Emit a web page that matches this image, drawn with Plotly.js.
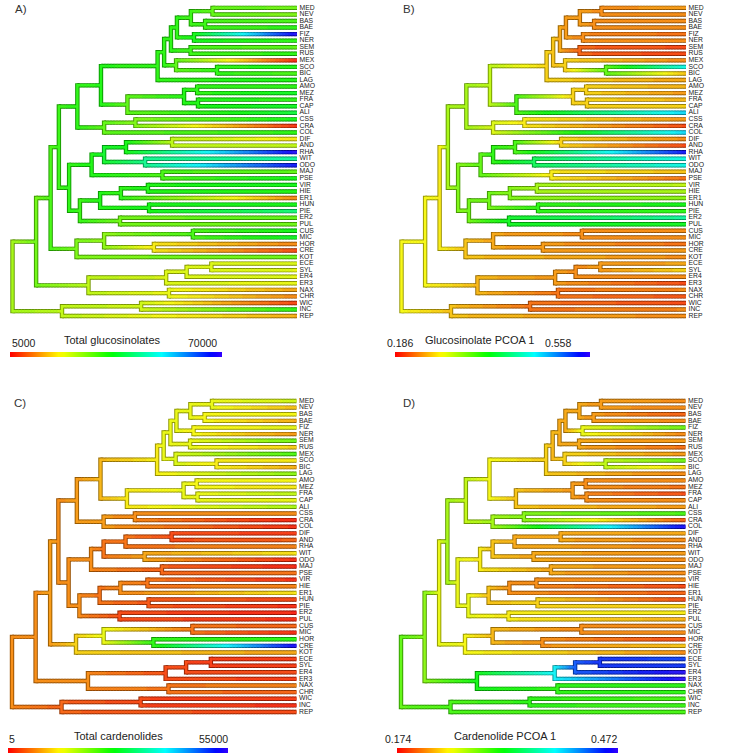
<!DOCTYPE html>
<html><head><meta charset="utf-8">
<script src="https://cdn.plot.ly/plotly-3.0.1.min.js"></script>
<style>html,body{margin:0;padding:0;background:#fff}#chart{width:732px;height:754px}</style>
</head><body><div id="chart"></div>
<script>
// ---------------- DATA ----------------
const tipLabels = ["MED","NEV","BAS","BAE","FIZ","NER","SEM","RUS","MEX","SCO","BIC","LAG","AMO","MEZ","FRA","CAP","ALI","CSS","CRA","COL","DIF","AND","RHA","WIT","ODO","MAJ","PSE","VIR","HIE","ER1","HUN","PIE","ER2","PUL","CUS","MIC","HOR","CRE","KOT","ECE","SYL","ER4","ER3","NAX","CHR","WIC","INC","REP"];

const nodeNames = ["a1","a2","a3","a4","a5","a6","a7","a8","a9","a10","a11","a12","a13","a14","a15","a16","a17","a18","a19",
  "b1","b2","b3","b4","b5","b6","b7","b8","b9","b10","b11","b12","b13",
  "c1","d1","d2","d3","d4","c2","e1","e2","e3","e4","e5","c3","f1","f2","root"];

const nodeChildren = [
  ["MED","NEV"],["BAS","BAE"],["a1","a2"],["FIZ","NER"],["a3","a4"],["SEM","RUS"],["a5","a6"],["SCO","BIC"],["MEX","a8"],["a7","a9"],
  ["a10","LAG"],["AMO","MEZ"],["FRA","CAP"],["a12","a13"],["a14","ALI"],["a11","a15"],["CSS","CRA"],["a17","COL"],["a16","a18"],
  ["DIF","AND"],["b1","RHA"],["WIT","ODO"],["b2","b3"],["MAJ","PSE"],["b4","b5"],["VIR","HIE"],["b7","ER1"],["HUN","PIE"],["b8","b9"],
  ["ER2","PUL"],["b10","b11"],["b6","b12"],
  ["a19","b13"],["CUS","MIC"],["HOR","CRE"],["d1","d2"],["d3","KOT"],["c1","d4"],
  ["ECE","SYL"],["e1","ER4"],["e2","ER3"],["NAX","CHR"],["e3","e4"],["c2","e5"],["WIC","INC"],["f1","REP"],["c3","f2"]];

// node depth from the root (root = 0, tips = 1)
const nodeDepth = [0.703,0.677,0.627,0.638,0.578,0.626,0.557,0.719,0.575,0.533,0.510,0.649,0.652,0.603,0.404,0.311,0.432,0.322,0.228,
  0.561,0.399,0.466,0.322,0.527,0.278,0.476,0.381,0.480,0.308,0.378,0.237,0.199,
  0.163,0.634,0.497,0.322,0.225,0.134,
  0.699,0.612,0.540,0.550,0.267,0.083,0.452,0.174,0];

// A) Total glucosinolates
const glucTotalTips = [29700,28400,32300,34250,68700,34250,31000,34250,6300,35550,32300,35550,34250,37500,34250,37500,38800,36200,6950,34250,
  19300,24500,68700,45300,66750,31000,36200,36200,35550,12800,36200,42700,31000,29700,36200,37500,12800,8900,29700,
  22550,21900,21900,21250,14750,12800,8250,34250,15400];
const glucTotalNodes = [31000,32950,32950,36200,34250,32950,34250,34250,31000,34250,34250,34250,35550,34900,31000,34900,28400,31000,34250,
  24500,36200,44000,37500,32300,35550,35550,34250,36200,34900,29700,33600,34250,
  33600,32300,19300,27750,29050,32300,22550,22550,22550,21250,24500,29700,23200,24500,26450];

// B) Glucosinolate PCOA 1
const glucPcoaTips = [0.238,0.234,0.234,0.231,0.223,0.231,0.208,0.205,0.231,0.446,0.253,0.242,0.246,0.238,0.249,0.260,0.465,0.238,0.208,0.465,
  0.234,0.208,0.539,0.446,0.446,0.253,0.223,0.298,0.305,0.316,0.365,0.353,0.417,0.372,0.231,0.234,0.223,0.238,0.234,
  0.242,0.260,0.231,0.208,0.231,0.212,0.208,0.231,0.231];
const glucPcoaNodes = [0.234,0.234,0.238,0.231,0.238,0.216,0.242,0.335,0.260,0.253,0.260,0.260,0.260,0.260,0.342,0.298,0.268,0.286,0.309,
  0.260,0.342,0.391,0.353,0.268,0.335,0.305,0.320,0.353,0.327,0.372,0.327,0.320,
  0.305,0.234,0.238,0.242,0.253,0.272,0.238,0.234,0.238,0.223,0.249,0.275,0.223,0.253,0.275];

// C) Total cardenolides
const cardTotalTips = [15400,9900,13200,8800,13750,7700,20900,11000,23100,12100,8800,19250,13200,12100,16500,13750,17600,6600,1100,1650,
  2200,4400,6600,12100,1650,1100,5500,1650,6600,12100,3300,1650,1100,1650,4400,1650,24750,53350,8250,
  2200,2200,2750,2200,6600,4400,2200,1650,2750];
const cardTotalNodes = [13750,13200,13750,13200,13750,13750,13750,12650,14850,13750,12650,13200,13750,13750,12100,9350,6600,7700,7700,
  3300,5500,8250,5500,4400,6600,5500,6600,3850,5500,3300,6600,6600,
  7150,5500,24750,13750,11000,7700,2200,2750,3300,5500,6600,7150,2750,4400,6600];

// D) Cardenolide PCOA 1
const cardPcoaTips = [0.213,0.210,0.198,0.213,0.287,0.210,0.216,0.204,0.216,0.287,0.234,0.210,0.213,0.204,0.192,0.210,0.216,0.299,0.198,0.463,
  0.219,0.210,0.210,0.216,0.210,0.216,0.210,0.210,0.192,0.198,0.192,0.234,0.240,0.222,0.210,0.210,0.192,0.228,0.213,
  0.442,0.448,0.466,0.469,0.308,0.308,0.299,0.302,0.299];
const cardPcoaNodes = [0.216,0.216,0.219,0.249,0.222,0.219,0.222,0.263,0.234,0.225,0.231,0.213,0.210,0.216,0.228,0.246,0.281,0.272,0.263,
  0.219,0.222,0.219,0.228,0.219,0.240,0.210,0.213,0.234,0.228,0.240,0.249,0.249,
  0.272,0.210,0.213,0.225,0.246,0.251,0.448,0.436,0.389,0.308,0.317,0.281,0.308,0.299,0.293];

const traitTitles = ["Total glucosinolates","Glucosinolate PCOA 1","Total cardenolides","Cardenolide PCOA 1"];
const traitMin = [5000, 0.186, 5, 0.174];
const traitMax = [70000, 0.558, 55000, 0.472];
const traitMinLabel = ["5000","0.186","5","0.174"];
const traitMaxLabel = ["70000","0.558","55000","0.472"];
const panelLetters = ["A)","B)","C)","D)"];

// ---------------- LAYOUT (pixels) ----------------
const W = 732, H = 754;
const boxes = [
  {left:12.5, right:297,  top:5,   bottom:316, letter:[12.5,8.5],  bar:[10,222,352,357],  title:[112,340], minX:24,  maxX:203, nums:343},
  {left:401.5,right:686,  top:5,   bottom:316, letter:[400.5,8.5], bar:[395,590,352,357], title:[480,340], minX:400, maxX:558, nums:343},
  {left:12,   right:296.5,top:401, bottom:712, letter:[12,403],    bar:[8,228,748,753],   title:[118,736], minX:12,  maxX:213, nums:739},
  {left:401,  right:685.5,top:401, bottom:712, letter:[400.5,403], bar:[397,618,748,753], title:[505,736], minX:398, maxX:604, nums:739}
];
const OUT_W = 4.4, FILL_W = 2.5;
const NB = 72;

function hsv(h){ // s=v=1
  const i = Math.floor(h*6), f = h*6 - i, q = 1-f, t = f;
  let r,g,b;
  switch(((i%6)+6)%6){case 0:r=1;g=t;b=0;break;case 1:r=q;g=1;b=0;break;case 2:r=0;g=1;b=t;break;
    case 3:r=0;g=q;b=1;break;case 4:r=t;g=0;b=1;break;default:r=1;g=0;b=q;}
  return [r,g,b];
}
// k: brightness factor, w: share of white mixed in
function rampColor(t, k, w){ t=Math.max(0,Math.min(1,t)); const c=hsv(t*0.7); w=w||0;
  const f = v => Math.round((v*k*(1-w)+w)*255);
  return 'rgb('+f(c[0])+','+f(c[1])+','+f(c[2])+')'; }
const rampScale = []; for(let i=0;i<=35;i++){ rampScale.push([i/35, rampColor(i/35,1,0)]); }

const tipIndex = {}; tipLabels.forEach((n,i)=>tipIndex[n]=i);
const nodeIndex = {}; nodeNames.forEach((n,i)=>nodeIndex[n]=i);
const yCache = {};
function yOf(n){ if(n in tipIndex) return tipIndex[n]; if(n in yCache) return yCache[n];
  const ch = nodeChildren[nodeIndex[n]]; const y=(yOf(ch[0])+yOf(ch[1]))/2; yCache[n]=y; return y; }
function depthOf(n){ return (n in tipIndex) ? 1 : nodeDepth[nodeIndex[n]]; }

const panelTips = [glucTotalTips, glucPcoaTips, cardTotalTips, cardPcoaTips];
const panelNodes = [glucTotalNodes, glucPcoaNodes, cardTotalNodes, cardPcoaNodes];

const data = [];
const layout = {width:W, height:H, margin:{l:0,r:0,t:0,b:0}, paper_bgcolor:'#fff', plot_bgcolor:'rgba(0,0,0,0)',
  showlegend:false, annotations:[], font:{family:'"Liberation Sans", Arial, sans-serif'}};
const PADX = 0.03, PADY = 1.2;

for(let p=0;p<4;p++){
  const bx = boxes[p];
  const ax = p===0 ? '' : String(p+1);
  const xpx = bx.right-bx.left, ypx = (bx.bottom-bx.top)/(tipLabels.length-1);
  layout['xaxis'+ax] = {domain:[(bx.left-PADX*xpx)/W, (bx.right+PADX*xpx)/W], range:[-PADX,1+PADX], visible:false, fixedrange:true};
  layout['yaxis'+ax] = {domain:[1-(bx.bottom+PADY*ypx)/H, 1-(bx.top-PADY*ypx)/H], range:[tipLabels.length-1+PADY, -PADY], visible:false, fixedrange:true};
  const tv = n => { const v = (n in tipIndex) ? panelTips[p][tipIndex[n]] : panelNodes[p][nodeIndex[n]];
    return (v-traitMin[p])/(traitMax[p]-traitMin[p]); };
  const outB = [], fillB = [];
  for(let i=0;i<NB;i++){ outB.push({x:[],y:[]}); fillB.push({x:[],y:[]}); }
  const lev = t => Math.max(0,Math.min(NB-1,Math.round(Math.max(0,Math.min(1,t))*(NB-1))));
  const eo = (OUT_W/2)/ypx, ef = (FILL_W/2)/ypx, ovl = 0.4/xpx;
  nodeNames.forEach((n,i)=>{
    const dp = nodeDepth[i], tp = tv(n), ch = nodeChildren[i];
    const ya = yOf(ch[0]), yb = yOf(ch[1]);
    const L = lev(tp);
    outB[L].x.push(dp,dp,null); outB[L].y.push(ya-eo,yb+eo,null);
    fillB[L].x.push(dp,dp,null); fillB[L].y.push(ya-ef,yb+ef,null);
    ch.forEach(c=>{
      const dc = depthOf(c), tc = tv(c), yc = yOf(c);
      const nseg = Math.max(1, Math.ceil((dc-dp)*xpx/1.5));
      for(let k=0;k<nseg;k++){
        const x0 = dp+(dc-dp)*k/nseg, x1 = Math.min(dc, dp+(dc-dp)*(k+1)/nseg + ovl);
        const tk = tp+(tc-tp)*(k+0.5)/nseg, Lk = lev(tk);
        outB[Lk].x.push(x0,x1,null); outB[Lk].y.push(yc,yc,null);
        fillB[Lk].x.push(x0,x1,null); fillB[Lk].y.push(yc,yc,null);
      }
    });
  });
  const xa = 'x'+ax, ya = 'y'+ax;
  outB.forEach((b,i)=>{ if(b.x.length) data.push({type:'scatter',mode:'lines',x:b.x,y:b.y,xaxis:xa,yaxis:ya,
    line:{color:rampColor(i/(NB-1),0.6,0),width:OUT_W},hoverinfo:'skip',showlegend:false}); });
  fillB.forEach((b,i)=>{ if(b.x.length) data.push({type:'scatter',mode:'lines',x:b.x,y:b.y,xaxis:xa,yaxis:ya,
    line:{color:rampColor(i/(NB-1),0.97,0.1),width:FILL_W},hoverinfo:'skip',showlegend:false}); });
  // tip labels
  data.push({type:'scatter',mode:'text',x:tipLabels.map(()=>1+2.5/xpx),y:tipLabels.map((_,i)=>i),text:tipLabels,
    textposition:'middle right',cliponaxis:false,xaxis:xa,yaxis:ya,hoverinfo:'skip',showlegend:false,
    textfont:{size:6.8,color:'#222',family:'"Liberation Sans", Arial, sans-serif'}});
  // colour bar via the library's colorscale
  data.push({type:'scatter',mode:'markers',x:[0.5,0.5],y:[0,0],xaxis:xa,yaxis:ya,hoverinfo:'skip',showlegend:false,
    marker:{size:1,opacity:0,color:[traitMin[p],traitMax[p]],cmin:traitMin[p],cmax:traitMax[p],colorscale:rampScale,showscale:true,
      colorbar:{orientation:'h',x:bx.bar[0]/W,xanchor:'left',y:1-bx.bar[2]/H,yanchor:'top',len:bx.bar[1]-bx.bar[0],lenmode:'pixels',
        thickness:bx.bar[3]-bx.bar[2],thicknessmode:'pixels',xpad:0,ypad:0,outlinewidth:0,borderwidth:0,showticklabels:false,ticks:''}}});
  // texts
  layout.annotations.push({xref:'paper',yref:'paper',x:bx.letter[0]/W,y:1-bx.letter[1]/H,xanchor:'left',yanchor:'middle',showarrow:false,
    text:panelLetters[p],font:{size:11.5,color:'#333'}});
  layout.annotations.push({xref:'paper',yref:'paper',x:bx.title[0]/W,y:1-bx.title[1]/H,xanchor:'center',yanchor:'middle',showarrow:false,
    text:traitTitles[p],font:{size:11,color:'#222'}});
  layout.annotations.push({xref:'paper',yref:'paper',x:bx.minX/W,y:1-bx.nums/H,xanchor:'center',yanchor:'middle',showarrow:false,
    text:traitMinLabel[p],font:{size:10.5,color:'#222'}});
  layout.annotations.push({xref:'paper',yref:'paper',x:bx.maxX/W,y:1-bx.nums/H,xanchor:'center',yanchor:'middle',showarrow:false,
    text:traitMaxLabel[p],font:{size:10.5,color:'#222'}});
}
Plotly.newPlot('chart', data, layout, {staticPlot:true, displayModeBar:false});
</script></body></html>
